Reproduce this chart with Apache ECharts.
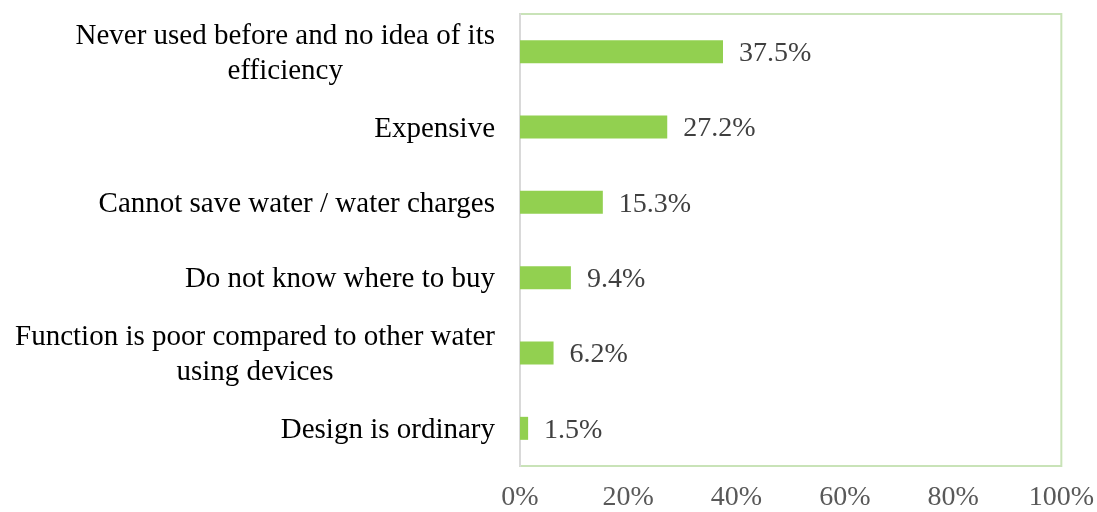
<!DOCTYPE html>
<html>
<head>
<meta charset="utf-8">
<script src="https://cdn.jsdelivr.net/npm/echarts@6/dist/echarts.min.js"></script>
<style>
  html, body { margin: 0; padding: 0; background: #ffffff; }
  #chart { width: 1097px; height: 512px; }
</style>
</head>
<body>
<div id="chart"></div>
<script>
// Reasons for not using the device, share of respondents (%)
const categories = [
  'Never used before and no idea of its\nefficiency',
  'Expensive',
  'Cannot save water / water charges',
  'Do not know where to buy',
  'Function is poor compared to other water\nusing devices',
  'Design is ordinary'
];
const shares = [37.5, 27.2, 15.3, 9.4, 6.2, 1.5];
const axisTicks = [0, 20, 40, 60, 80, 100];

const serif = "'Liberation Serif', 'Times New Roman', serif";

const chart = echarts.init(document.getElementById('chart'), null, { renderer: 'canvas' });

chart.setOption({
  animation: false,
  backgroundColor: '#ffffff',
  grid: {
    left: 520,
    right: 32,
    top: 14,
    bottom: 46,
    show: true,
    borderColor: '#c9e3b8',
    borderWidth: 2,
    containLabel: false
  },
  xAxis: {
    type: 'value',
    min: axisTicks[0],
    max: axisTicks[axisTicks.length - 1],
    interval: axisTicks[1] - axisTicks[0],
    axisLine: { show: false },
    axisTick: { show: false },
    splitLine: { show: false },
    axisLabel: {
      formatter: '{value}%',
      fontFamily: serif,
      fontSize: 28,
      color: '#595959',
      margin: 18
    }
  },
  yAxis: {
    type: 'category',
    inverse: true,
    data: categories,
    axisLine: { show: true, lineStyle: { color: '#d9d9d9', width: 2 } },
    axisTick: { show: false },
    splitLine: { show: false },
    axisLabel: {
      margin: 25,
      padding: [4, 0, 0, 0],
      formatter: function (v) {
        return v.split('\n').map(function (line) { return '{c|' + line + '}'; }).join('\n');
      },
      rich: {
        c: {
          align: 'center',
          fontFamily: serif,
          fontSize: 29,
          lineHeight: 35,
          color: '#000000'
        }
      }
    }
  },
  series: [{
    type: 'bar',
    data: shares,
    barWidth: 23,
    itemStyle: { color: '#92d050' },
    label: {
      show: true,
      position: 'right',
      distance: 16,
      offset: [0, 2],
      formatter: function (p) { return p.value.toFixed(1) + '%'; },
      fontFamily: serif,
      fontSize: 28,
      color: '#404040'
    }
  }]
});
</script>
</body>
</html>
